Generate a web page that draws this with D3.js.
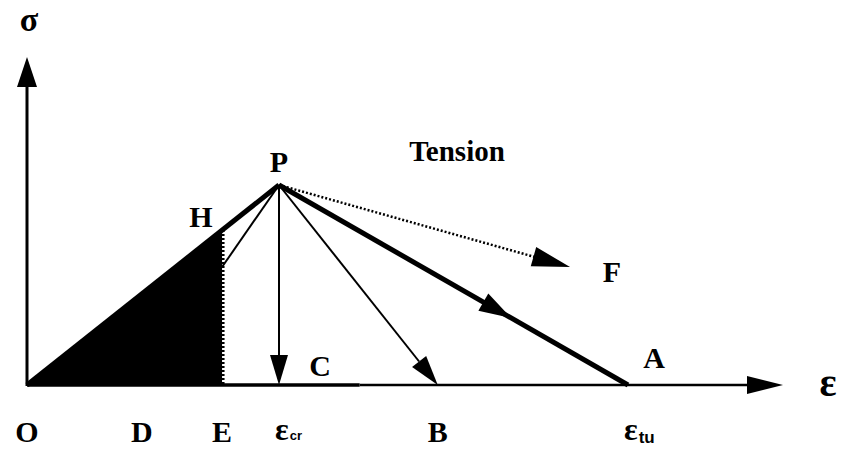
<!DOCTYPE html>
<html lang="en">
<head>
<meta charset="UTF-8">
<title>Tension unloading diagram</title>
<style>
  body { margin: 0; background: #fff; }
  svg { display: block; }
</style>
</head>
<body>
<svg id="chart" width="842" height="450"></svg>
<script src="https://d3js.org/d3.v7.min.js"></script>
<script>
// strain in units of eps_cr, stress in units of the peak stress
const strainLabels = ["O", "D", "E", "ε", "B", "ε"];
const strainSubs   = ["", "", "", "cr", "", "tu"];
const strainValues = [0, 0.456, 0.774, 1.0, 1.63, 2.385];

const peak = [1.0, 1.0];           // P : strain, stress
const hPoint = [0.774, 0.775];     // H on the loading line

// unloading / softening branches from P
const branchNames  = ["E", "C", "B", "A", "F"];
const branchStrain = [0.774, 1.0, 1.63, 2.385, 2.155];
const branchStress = [0.59, 0, 0, 0, 0.59];

const SERIF = "Liberation Serif";
const SANS = "Liberation Sans";

const svg = d3.select("#chart");
const x = d3.scaleLinear().domain([0, 3]).range([27, 783]);
const y = d3.scaleLinear().domain([0, 1.64]).range([385, 57]);

function arrowHead(x1, y1, x2, y2, len, half) {
    const a = Math.atan2(y2 - y1, x2 - x1);
    const bx = x2 - len * Math.cos(a), by = y2 - len * Math.sin(a);
    const px = -Math.sin(a) * half, py = Math.cos(a) * half;
    svg.append("path")
        .attr("d", `M${x2},${y2}L${bx + px},${by + py}L${bx - px},${by - py}Z`)
        .attr("fill", "#000");
    return [bx, by];
}

function line(x1, y1, x2, y2, w, dash) {
    const l = svg.append("line")
        .attr("x1", x1).attr("y1", y1).attr("x2", x2).attr("y2", y2)
        .attr("stroke", "#000").attr("stroke-width", w);
    if (dash) l.attr("stroke-dasharray", dash);
    return l;
}

function label(txt, px, py, size, anchor) {
    return svg.append("text")
        .attr("x", px).attr("y", py)
        .attr("font-family", SERIF).attr("font-weight", "bold")
        .attr("font-size", size)
        .attr("text-anchor", anchor || "middle")
        .attr("fill", "#000")
        .text(txt);
}

const X0 = x(0), Y0 = y(0);
const Px = x(peak[0]), Py = y(peak[1]);

// shaded area O-H-E
svg.append("path")
    .attr("d", `M${X0},${Y0}L${x(hPoint[0])},${y(hPoint[1])}L${x(hPoint[0])},${Y0}Z`)
    .attr("fill", "#000");
line(x(hPoint[0]) + 1, y(hPoint[1]), x(hPoint[0]) + 1, Y0, 3, "2,2");

// axes
line(X0, Y0 + 1, X0, y(1.5), 3);
arrowHead(X0, Y0, X0, y(1.64), 30, 10);
line(X0, Y0, x(1.32), Y0, 3.5);
line(x(1.32), Y0, x(2.9), Y0, 2.5);
arrowHead(X0, Y0, x(3), Y0, 36, 9);

// loading line O-P
line(X0, Y0, Px, Py, 5);

// branches
branchNames.forEach((n, i) => {
    const ex = x(branchStrain[i]), ey = y(branchStress[i]);
    if (n === "E") {
        line(Px, Py, ex, ey, 2);
    } else if (n === "A") {
        line(Px, Py, ex, ey, 5);
        // arrow in the middle of the softening branch
        const t = 0.665;
        arrowHead(Px, Py, Px + (ex - Px) * t, Py + (ey - Py) * t, 32, 10);
    } else if (n === "F") {
        const b = arrowHead(Px, Py, ex, ey, 38, 10);
        line(Px, Py, b[0] + 2, b[1] + 0.5, 2.5, "2,2");
    } else {
        const b = arrowHead(Px, Py, ex, ey, 30, 9);
        line(Px, Py, b[0], b[1], 2);
    }
});

// strain labels below the axis
strainLabels.forEach((s, i) => {
    const cx = x(strainValues[i]);
    if (strainSubs[i]) {
        const t = label("", cx - 4, 440, 32, "start");
        t.append("tspan").text(s);
        t.append("tspan")
            .attr("font-family", SANS)
            .attr("font-size", strainSubs[i] === "tu" ? 17 : 13)
            .attr("dx", 1)
            .attr("dy", strainSubs[i] === "tu" ? 3 : 0)
            .text(strainSubs[i]);
    } else {
        label(s, cx, 442, 30);
    }
});

// point labels
const pts = [
    ["P", Px, 172],
    ["H", 201, 227],
    ["C", 320, 376],
    ["A", 654, 368],
    ["F", 612, 282]
];
pts.forEach(p => label(p[0], p[1], p[2], 30));

label("Tension", 457, 161, 29);

// axis titles
label("σ", 29, 31, 34);
label("ε", 828, 396, 40);
</script>
</body>
</html>
